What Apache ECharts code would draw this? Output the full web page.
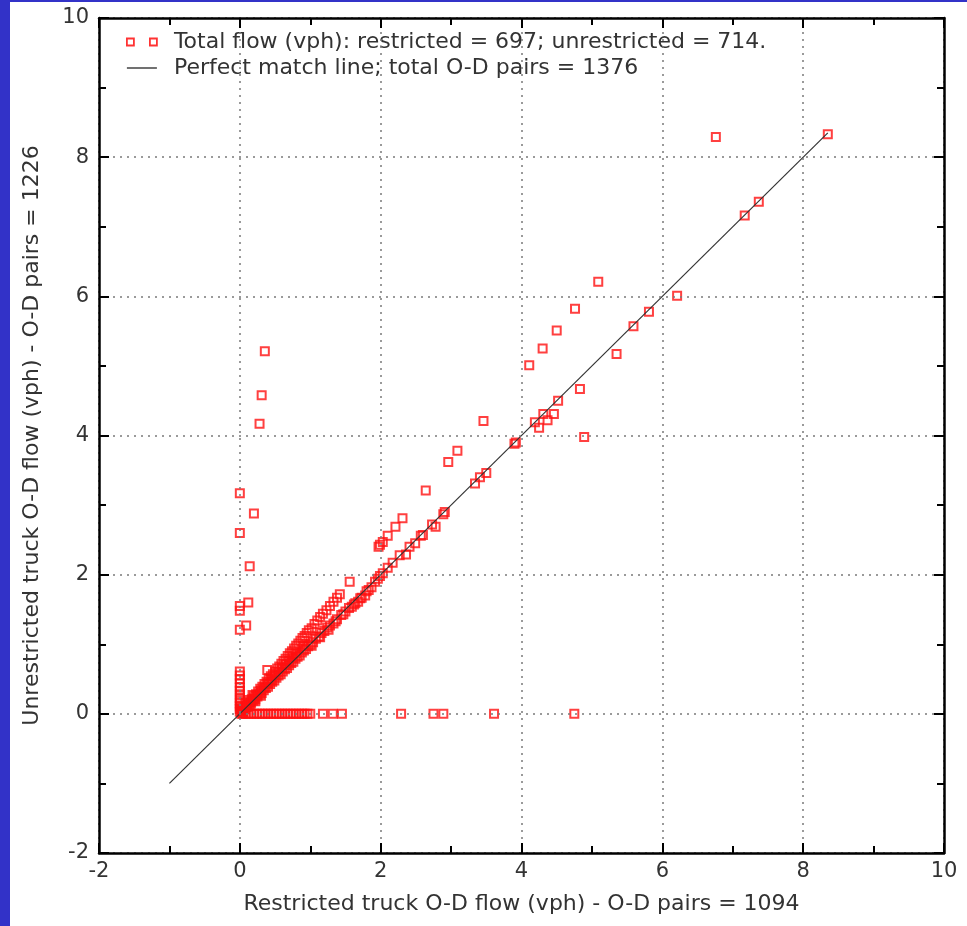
<!DOCTYPE html>
<html>
<head>
<meta charset="utf-8">
<script src="https://cdn.jsdelivr.net/npm/echarts@6/dist/echarts.min.js"></script>
<style>
html,body{margin:0;padding:0;background:#fff;}
#chart{position:absolute;left:0;top:0;width:967px;height:926px;background:#fff;}
#bl{position:absolute;left:0;top:0;width:10px;height:926px;background:#3232c8;}
#bt{position:absolute;left:0;top:0;width:967px;height:2px;background:#3232c8;}
</style>
</head>
<body>
<div id="chart"></div>
<div id="bl"></div>
<div id="bt"></div>
<script>
// ---- data (restricted flow x, unrestricted flow y) ----
var xTicks = [-2, 0, 2, 4, 6, 8, 10];
var yTicks = [-2, 0, 2, 4, 6, 8, 10];

var matchBandPairs = [
  [0.04,0.04],[0.07,0.07],[0.1,0.1],[0.13,0.12],[0.16,0.16],[0.19,0.19],[0.22,0.21],[0.25,0.25],
  [0.28,0.28],[0.31,0.3],[0.34,0.34],[0.37,0.37],[0.4,0.39],[0.43,0.43],[0.46,0.46],[0.49,0.48],
  [0.52,0.52],[0.55,0.55],[0.58,0.57],[0.61,0.61],[0.64,0.64],[0.67,0.66],[0.7,0.7],[0.73,0.73],
  [0.76,0.75],[0.79,0.79],[0.82,0.82],[0.85,0.84],[0.88,0.88],[0.91,0.91],[0.94,0.93],[0.97,0.97],
  [1.0,1.0],[1.04,1.03],[1.08,1.08],[1.12,1.11],[1.16,1.16],[1.2,1.19],[1.24,1.24],[1.28,1.27],
  [1.33,1.3],[1.38,1.36],[1.44,1.42],[1.5,1.47],[1.55,1.52],[1.59,1.54],[1.64,1.59],[1.68,1.61],
  [1.73,1.67],[1.78,1.7],[1.83,1.78],[1.87,1.82],[1.92,1.9],[1.96,1.94],[1.99,1.98],[2.03,2.02],
  [2.1,2.1],[2.17,2.17],[2.27,2.28],[2.36,2.29],[2.41,2.4],[2.49,2.45],[2.57,2.56],[2.6,2.57],
  [2.73,2.72],[2.78,2.69],[2.89,2.87],[2.91,2.9],[3.34,3.31],[3.41,3.4],[3.5,3.46],[3.9,3.88],
  [3.92,3.9],[4.19,4.19],[4.25,4.11],[4.31,4.31],[4.37,4.22],[4.46,4.31],[4.52,4.5],[4.83,4.67],
  [4.89,3.98],[5.35,5.17],[5.59,5.57],[5.81,5.78],[6.21,6.01],[7.17,7.16],[7.37,7.36],[8.35,8.33],
  [1.02,0.98],[1.14,1.1],[1.26,1.21],[1.36,1.33],[1.47,1.43],[1.62,1.57],[1.71,1.66],[1.8,1.76]
];

var upperBandPairs = [
  [0.05,0.06],[0.08,0.1],[0.11,0.14],[0.14,0.17],[0.17,0.21],[0.2,0.25],[0.23,0.28],[0.26,0.32],
  [0.29,0.36],[0.32,0.39],[0.35,0.43],[0.38,0.46],[0.41,0.5],[0.44,0.54],[0.47,0.57],[0.5,0.61],
  [0.53,0.65],[0.56,0.68],[0.59,0.72],[0.62,0.76],[0.65,0.79],[0.68,0.83],[0.71,0.87],[0.74,0.9],
  [0.77,0.94],[0.8,0.98],[0.83,1.01],[0.86,1.05],[0.89,1.09],[0.92,1.12],[0.95,1.16],[0.98,1.2],
  [1.02,1.23],[1.06,1.29],[1.1,1.34],[1.14,1.39],[1.18,1.44],[1.23,1.49],[1.28,1.55],[1.33,1.61],
  [1.38,1.67],[1.42,1.72],[1.56,1.9],[1.97,2.4],[1.99,2.43],[2.03,2.47],[2.1,2.56],[2.21,2.69],
  [2.31,2.81],[2.64,3.21],[2.96,3.62],[3.09,3.78],[3.46,4.21],[4.11,5.01],[4.3,5.25],[4.5,5.51],
  [4.76,5.82],[5.09,6.21],[6.76,8.29]
];

var betweenBandPairs = [
  [0.1,0.12],[0.2,0.22],[0.3,0.33],[0.4,0.44],[0.5,0.55],[0.6,0.66],[0.7,0.76],[0.8,0.87],
  [0.9,0.97],[0.25,0.27],[0.35,0.38],[0.45,0.49],[0.55,0.6],[0.65,0.71],[0.75,0.81],
  [0.15,0.12],[0.22,0.18],[0.3,0.26],[0.12,0.2],[0.18,0.27],[0.08,0.16]
];

var zeroRestrictedPairs = [
  [0,0.03],[0,0.07],[0,0.11],[0,0.15],[0,0.19],[0,0.23],[0,0.28],[0,0.33],[0,0.38],[0,0.44],
  [0,0.5],[0,0.55],[0,0.61],[0,1.21],[0,1.48],[0,1.55],[0,2.6],[0,3.17],[0.09,1.27],[0.12,1.6],
  [0.14,2.12],[0.2,2.88],[0.28,4.17],[0.31,4.58],[0.355,5.21],[0.39,0.63],[0.03,0.05],[0.05,0.02],
  [0.02,0.09]
];

var zeroUnrestrictedPairs = [
  [0.02,0],[0.04,0],[0.08,0],[0.12,0],[0.16,0],[0.2,0],[0.24,0],[0.28,0],[0.32,0],[0.36,0],
  [0.4,0],[0.44,0],[0.48,0],[0.52,0],[0.56,0],[0.6,0],[0.64,0],[0.68,0],[0.72,0],[0.76,0],
  [0.8,0],[0.84,0],[0.88,0],[0.92,0],[0.96,0],[1.0,0],[1.18,0],[1.32,0],[1.45,0],[2.29,0],
  [2.75,0],[2.89,0],[3.61,0],[4.75,0]
];

var matchLinePairs = [[-1,-1],[8.35,8.35]];

var scatterName = 'Total flow (vph): restricted = 697; unrestricted = 714.';
var lineName = 'Perfect match line; total O-D pairs = 1376';
var xName = 'Restricted truck O-D flow (vph) - O-D pairs = 1094';
var yName = 'Unrestricted truck O-D flow (vph) - O-D pairs = 1226';

// ---- chart ----
var FONT = 'DejaVu Sans';
var scatterData = [].concat(zeroUnrestrictedPairs, zeroRestrictedPairs, matchBandPairs, betweenBandPairs, upperBandPairs);

function axisBase(showLabel, showSplit, ticks) {
  return {
    type: 'value',
    min: ticks[0],
    max: ticks[ticks.length - 1],
    interval: ticks[1] - ticks[0],
    axisLine: { show: true, onZero: false, lineStyle: { color: '#000', width: 2.5 } },
    axisTick: { show: true, inside: true, length: 10, lineStyle: { color: '#000', width: 2 } },
    minorTick: { show: true, splitNumber: 2, length: 7, lineStyle: { color: '#000', width: 2 } },
    splitLine: { show: showSplit, lineStyle: { color: '#7a7a7a', type: [2, 5], width: 1.5 } },
    axisLabel: { show: showLabel, fontSize: 21, color: '#333', fontFamily: FONT },
    z: 5
  };
}

var xBottom = axisBase(true, true, xTicks);
xBottom.position = 'bottom';
xBottom.axisLabel.margin = 8;
xBottom.name = xName;
xBottom.nameLocation = 'middle';
xBottom.nameGap = 40;
xBottom.nameTextStyle = { fontSize: 22, color: '#333', fontFamily: FONT };
var xTop = axisBase(false, false, xTicks);
xTop.position = 'top';

var yLeft = axisBase(true, true, yTicks);
yLeft.position = 'left';
yLeft.axisLabel.margin = 10;
yLeft.name = yName;
yLeft.nameLocation = 'middle';
yLeft.nameGap = 56;
yLeft.nameTextStyle = { fontSize: 22, color: '#333', fontFamily: FONT };
var yRight = axisBase(false, false, yTicks);
yRight.position = 'right';

var chart = echarts.init(document.getElementById('chart'), null, { renderer: 'canvas' });
chart.setOption({
  backgroundColor: '#fff',
  animation: false,
  grid: { left: 99, right: 23, top: 18, bottom: 73, containLabel: false },
  legend: {
    left: 126, top: 31, orient: 'vertical', padding: 0, itemGap: 4,
    itemWidth: 30, itemHeight: 7,
    textStyle: { fontSize: 22, lineHeight: 22, color: '#333', fontFamily: FONT, padding: [0, 0, 0, 12] },
    data: [
      { name: scatterName, icon: 'path://M0,0h7v7h-7zM23,0h7v7h-7z',
        itemStyle: { color: 'rgba(0,0,0,0)', borderColor: '#ff0000', borderWidth: 1.8 } },
      { name: lineName, icon: 'path://M0,0h28v1.2h-28z',
        itemStyle: { color: '#222', borderWidth: 0 } }
    ]
  },
  xAxis: [xBottom, xTop],
  yAxis: [yLeft, yRight],
  series: [
    {
      name: scatterName, type: 'scatter', data: scatterData,
      symbol: 'rect', symbolSize: 8,
      itemStyle: { color: 'rgba(0,0,0,0)', borderColor: '#ff1010', borderWidth: 2 },
      z: 2
    },
    {
      name: lineName, type: 'line', data: matchLinePairs, symbol: 'none',
      lineStyle: { color: '#333', width: 1.2 }, itemStyle: { color: '#333' }, z: 3
    }
  ]
});
</script>
</body>
</html>
